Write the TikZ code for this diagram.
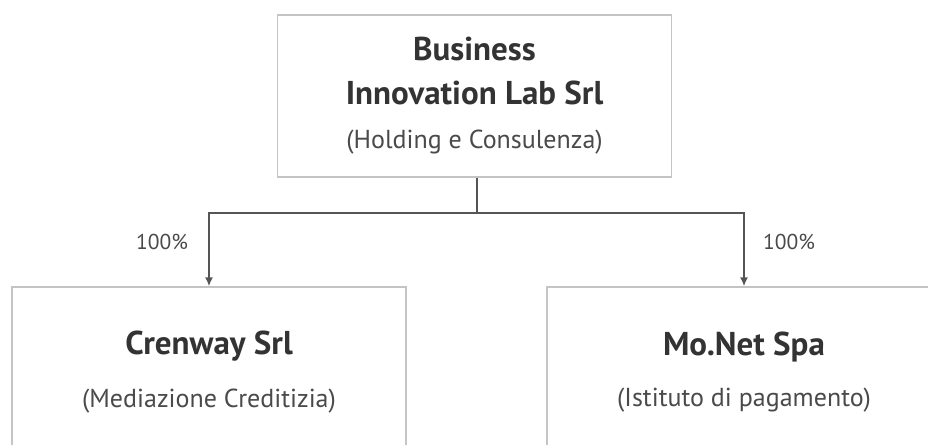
\documentclass[tikz,border=0pt]{standalone}
\usepackage{fontspec}
\setmainfont{PT Sans}
\usetikzlibrary{arrows.meta}
\definecolor{boxgray}{HTML}{C4C4C4}
\definecolor{linegray}{HTML}{555555}
\definecolor{titlegray}{HTML}{333333}
\definecolor{subgray}{HTML}{4A4A4A}
\newcommand{\ttl}[1]{{\bfseries\color{titlegray}#1}}
\newcommand{\sub}[1]{{\fontsize{26}{40}\selectfont\color{subgray}#1}}

\begin{document}
\begin{tikzpicture}[
		x=1pt, y=-1pt,
		company/.style={draw=boxgray, line width=1.5pt, minimum width=394pt,
			minimum height=162pt, align=center, inner sep=0pt,
			font=\fontsize{33}{44}\selectfont},
		link/.style={draw=linegray, line width=1.5pt},
		arr/.style={link, -{Latex[length=9pt,width=8pt]}},
		pct/.style={text=subgray, font=\fontsize{21.5}{24}\selectfont}]
		\clip (0,0) rectangle (928,444);
		\fill[white] (0,0) rectangle (928,444);
		\node[company] (holding) at (474.5,96)  {\ttl{Business}\\\ttl{Innovation Lab Srl}\\[0pt]\sub{(Holding e Consulenza)}};
		\node[company, minimum height=170pt] (crenway) at (209,372) {\ttl{Crenway Srl}\\[9pt]\sub{(Mediazione Creditizia)}};
		\node[company, minimum height=170pt] (monet)   at (744,372) {\ttl{Mo.Net Spa}\\[7pt]\sub{(Istituto di pagamento)}};
		\coordinate (fork) at (477,213);
		\draw[link] (holding.south -| fork) -- (fork);
		\draw[arr] (fork) -| (crenway.north);
		\draw[arr] (fork) -| (monet.north);
		\node[pct] (pctcren)  at (162,242) {100\%};
		\node[pct] (pctmonet) at (789,242) {100\%};
\end{tikzpicture}
\end{document}
